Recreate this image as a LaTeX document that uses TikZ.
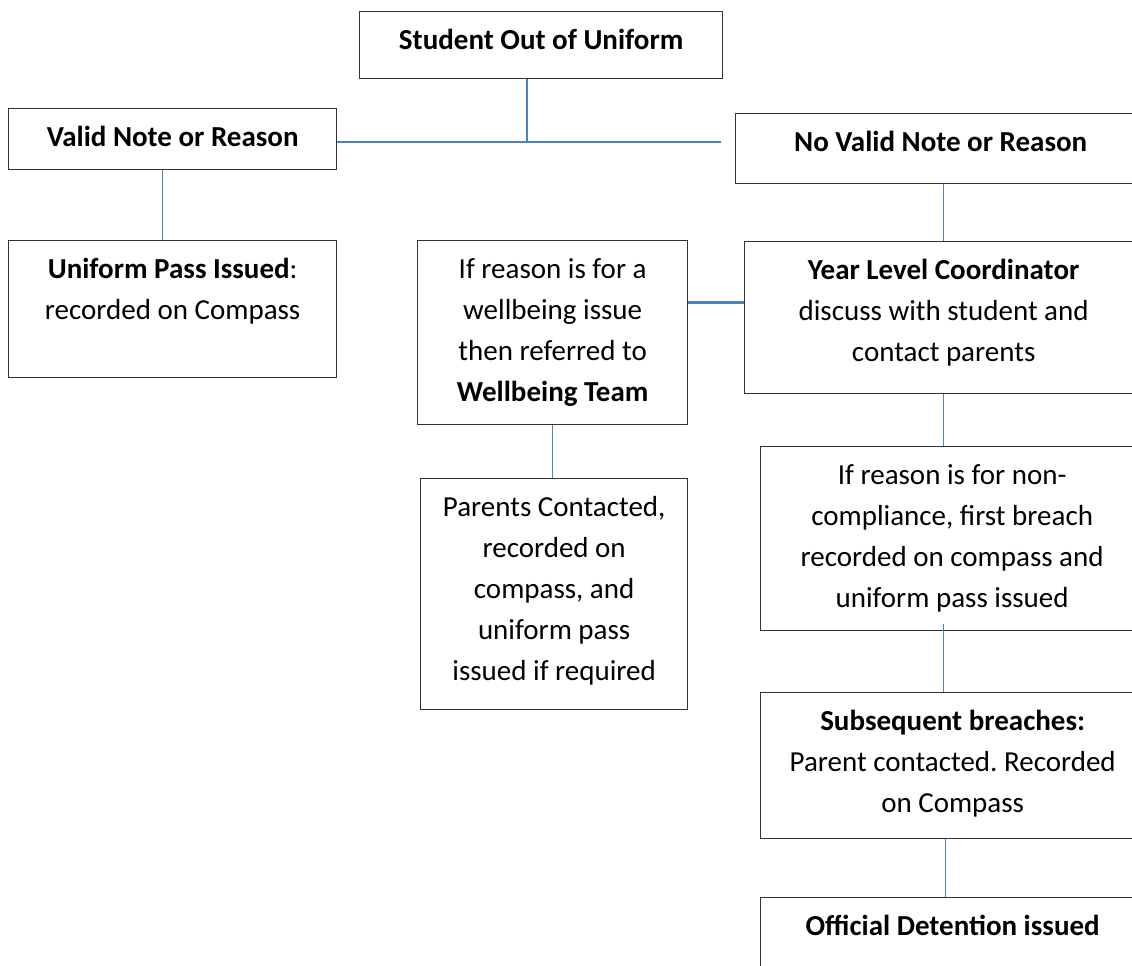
\documentclass[tikz,border=0pt]{standalone}
\usepackage{fontspec}
\setmainfont{Carlito}
\frenchspacing
\definecolor{conn}{RGB}{79,129,189}
\definecolor{edge}{RGB}{51,51,51}
\tikzset{
  flowbox/.style={draw=edge, line width=1.3pt, rectangle, inner sep=0pt, anchor=north west},
  flowtxt/.style={align=center, inner sep=0pt, anchor=north, font=\fontsize{29}{41}\selectfont},
  link/.style={draw=conn, line width=1.4pt},
  linkthick/.style={draw=conn, line width=2.4pt}
}
\begin{document}
\begin{tikzpicture}[x=1pt,y=-1pt]
\useasboundingbox (0,0) rectangle (1132,966);
\clip (0,0) rectangle (1132,966);
% boxes
\node[flowbox, minimum width=363pt, minimum height=67pt] (student) at (359,11) {};
\node[flowbox, minimum width=328pt, minimum height=61pt] (valid) at (8,108) {};
\node[flowbox, minimum width=410pt, minimum height=70pt] (novalid) at (735,113) {};
\node[flowbox, minimum width=328pt, minimum height=137pt] (upass) at (8,240) {};
\node[flowbox, minimum width=270pt, minimum height=184pt] (wellb) at (417,240) {};
\node[flowbox, minimum width=398pt, minimum height=152pt] (year) at (744,241) {};
\node[flowbox, minimum width=267pt, minimum height=231pt] (parents) at (420,478) {};
\node[flowbox, minimum width=383pt, minimum height=184pt] (noncomp) at (760,446) {};
\node[flowbox, minimum width=384pt, minimum height=146pt] (subseq) at (760,692) {};
\node[flowbox, minimum width=384pt, minimum height=103pt] (official) at (760,897) {};
% texts
\node[flowtxt] (student-t) at ([yshift=-9.3pt]student.north) {\strut\textbf{Student Out of Uniform}};
\node[flowtxt] (valid-t) at ([yshift=-9.3pt]valid.north) {\strut\textbf{Valid Note or Reason}};
\node[flowtxt] (novalid-t) at ([yshift=-9.3pt]novalid.north) {\strut\textbf{No Valid Note or Reason}};
\node[flowtxt] (upass-t) at ([yshift=-9.3pt]upass.north) {\strut\textbf{Uniform Pass Issued}:\\recorded on Compass};
\node[flowtxt] (wellb-t) at ([yshift=-9.3pt]wellb.north) {\strut If reason is for a\\wellbeing issue\\then referred to\\\textbf{Wellbeing Team}};
\node[flowtxt] (year-t) at ([yshift=-9.3pt]year.north) {\strut\textbf{Year Level Coordinator}\\discuss with student and\\contact parents};
\node[flowtxt] (parents-t) at ([yshift=-9.3pt]parents.north) {\strut Parents Contacted,\\recorded on\\compass, and\\uniform pass\\issued if required};
\node[flowtxt] (noncomp-t) at ([yshift=-9.3pt]noncomp.north) {\strut If reason is for non-\\compliance, first breach\\recorded on compass and\\uniform pass issued};
\node[flowtxt] (subseq-t) at ([yshift=-9.3pt]subseq.north) {\strut\textbf{Subsequent breaches:}\\Parent contacted. Recorded\\on Compass};
\node[flowtxt] (official-t) at ([yshift=-9.3pt]official.north) {\strut\textbf{Official Detention issued}};
% connectors
\coordinate (j) at (527,142);
\coordinate (je) at (721,142);
\draw[link] (student.south -| j) -- (j);
\draw[linkthick] (valid.east |- j) -- (je);
\draw[link] ([xshift=-10pt]valid.south) -- ([xshift=-10pt]upass.north);
\draw[link] (novalid.south -| year.north) -- (year.north);
\draw[linkthick] ([yshift=30pt]wellb.east) coordinate (w1) -- (w1 -| year.west);
\draw[link] (wellb.south) -- (wellb.south |- parents.north);
\draw[link] (year.south) -- (year.south |- noncomp.north);
\draw[link] ([yshift=7pt]year.south |- noncomp.south) -- (year.south |- subseq.north);
\draw[link] ([xshift=-7pt]subseq.south) -- ([xshift=-7pt]official.north);
\end{tikzpicture}
\end{document}
